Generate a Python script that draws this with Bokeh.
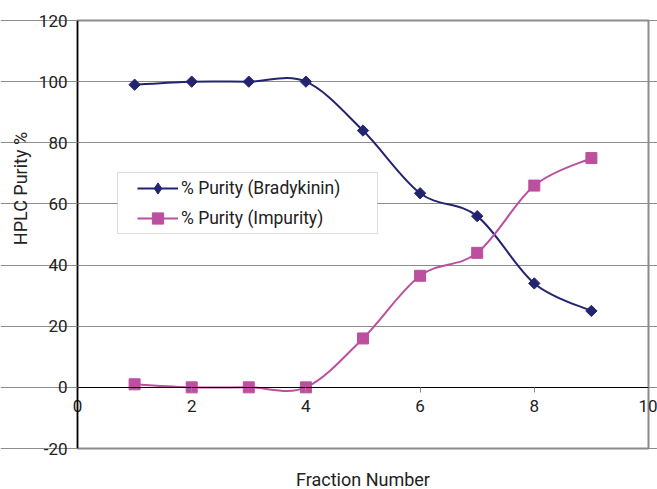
import numpy as np
from bokeh.plotting import figure
from bokeh.models import FixedTicker, Label, BoxAnnotation, Legend, LegendItem, Range1d
from bokeh.embed import file_html
from bokeh.resources import INLINE

fraction = [1, 2, 3, 4, 5, 6, 7, 8, 9]
bradykinin = [99, 100, 100, 100, 84, 63.5, 56, 34, 25]
impurity = [1, 0, 0, 0, 16, 36.5, 44, 66, 75]
x_ticks = [0, 2, 4, 6, 8, 10]
y_ticks = [-20, 0, 20, 40, 60, 80, 100, 120]
series_names = ["% Purity (Bradykinin)", "% Purity (Impurity)"]
x_title = "Fraction Number"
y_title = "HPLC Purity %"

FONT = "Roboto"
NAVY = "#232470"
MAGENTA = "#bc4f9f"
TXT = "#222222"
GRAY = "#8c8c8c"

W, H = 657, 489
# plot-area box in canvas pixels (left, right, top, bottom)
BOX_L, BOX_R, BOX_T, BOX_B = 77, 648, 20, 448


def smooth_segments(xs, ys):
    """Excel-like smoothed line: cubic Bezier segments through the data points."""
    xs = np.asarray(xs, float)
    ys = np.asarray(ys, float)
    n = len(xs)
    seg = dict(x0=[], y0=[], x1=[], y1=[], cx0=[], cy0=[], cx1=[], cy1=[])
    for i in range(n - 1):
        i0, i3 = max(i - 1, 0), min(i + 2, n - 1)
        seg["x0"].append(xs[i]); seg["y0"].append(ys[i])
        seg["x1"].append(xs[i + 1]); seg["y1"].append(ys[i + 1])
        seg["cx0"].append(xs[i] + (xs[i + 1] - xs[i0]) / 6)
        seg["cy0"].append(ys[i] + (ys[i + 1] - ys[i0]) / 6)
        seg["cx1"].append(xs[i + 1] - (xs[i3] - xs[i]) / 6)
        seg["cy1"].append(ys[i + 1] - (ys[i3] - ys[i]) / 6)
    return seg


# ranges padded so that the axis box lands at BOX_* while the frame fills the canvas
x0, x1 = x_ticks[0], x_ticks[-1]
y0, y1 = y_ticks[0], y_ticks[-1]
xs_ = (x1 - x0) / (BOX_R - BOX_L)
ys_ = (y1 - y0) / (BOX_B - BOX_T)
x_range = Range1d(x0 - BOX_L * xs_, x1 + (W - BOX_R) * xs_)
y_range = Range1d(y0 - (H - BOX_B) * ys_, y1 + BOX_T * ys_)

p = figure(width=W, height=H, x_range=x_range, y_range=y_range,
           output_backend="svg", toolbar_location=None, min_border=0)
p.background_fill_color = "white"
p.border_fill_color = "white"
p.outline_line_color = None

# grid
p.xgrid.grid_line_color = None
p.ygrid.ticker = FixedTicker(ticks=y_ticks)
p.ygrid.bounds = (x0, x1)
p.ygrid.grid_line_color = GRAY
p.ygrid.grid_line_width = 1

# plot-area frame (axis limits)
p.quad(left=[x0], right=[x1], bottom=[y0], top=[y1], fill_alpha=0,
       line_color=GRAY, line_width=2)

# y axis at x = 0
p.yaxis.fixed_location = x0
p.yaxis.bounds = (y0, y1)
p.yaxis.ticker = FixedTicker(ticks=y_ticks)
p.yaxis.major_label_overrides = {t: str(t) for t in y_ticks}
p.yaxis.axis_line_color = "black"
p.yaxis.axis_line_width = 1.5
p.yaxis.major_tick_line_color = GRAY
p.yaxis.major_tick_out = 6
p.yaxis.major_tick_in = 0
p.yaxis.minor_tick_line_color = None
p.yaxis.major_label_standoff = 4
p.yaxis.major_label_text_font = FONT
p.yaxis.major_label_text_font_size = "17px"
p.yaxis.major_label_text_color = TXT

# x axis crossing at y = 0
p.xaxis.fixed_location = 0
p.xaxis.bounds = (x0, x1)
p.xaxis.ticker = FixedTicker(ticks=x_ticks)
p.xaxis.axis_line_color = "black"
p.xaxis.axis_line_width = 1
p.xaxis.major_tick_line_color = GRAY
p.xaxis.major_tick_out = 5
p.xaxis.major_tick_in = 0
p.xaxis.minor_tick_line_color = None
p.xaxis.major_label_standoff = 8
p.xaxis.major_label_text_font = FONT
p.xaxis.major_label_text_font_size = "17px"
p.xaxis.major_label_text_color = TXT

# series
s1 = smooth_segments(fraction, bradykinin)
s2 = smooth_segments(fraction, impurity)
b1 = p.bezier(source=s1, x0="x0", y0="y0", x1="x1", y1="y1", cx0="cx0", cy0="cy0",
              cx1="cx1", cy1="cy1", line_color=NAVY, line_width=2)
b2 = p.bezier(source=s2, x0="x0", y0="y0", x1="x1", y1="y1", cx0="cx0", cy0="cy0",
              cx1="cx1", cy1="cy1", line_color=MAGENTA, line_width=2)
m1 = p.scatter(fraction, bradykinin, marker="square", angle=np.pi / 4, size=8,
               fill_color=NAVY, line_color=NAVY)
m2 = p.scatter(fraction, impurity, marker="square", size=11,
               fill_color=MAGENTA, line_color=MAGENTA)
# legend-only sample marker (legend glyphs ignore angle, so use a diamond)
d1 = p.scatter([np.nan], [np.nan], marker="diamond", fill_color=NAVY, line_color=NAVY)

# legend box (screen units: from the frame's bottom-left corner)
box = BoxAnnotation(left=117, right=377, top=H - 172, bottom=H - 233,
                    left_units="screen", right_units="screen",
                    top_units="screen", bottom_units="screen",
                    fill_color="white", fill_alpha=1.0,
                    line_color=GRAY, line_width=1, level="annotation")
p.add_layout(box)

legend = Legend(items=[LegendItem(label=series_names[0], renderers=[b1, d1]),
                       LegendItem(label=series_names[1], renderers=[b2, m2])],
                location=(137, H - 233), padding=0, margin=0, spacing=0,
                glyph_width=41, glyph_height=28, label_height=30, label_standoff=3,
                label_text_font=FONT, label_text_font_size="17.5px",
                label_text_color=TXT, border_line_color=None,
                background_fill_alpha=0)
p.add_layout(legend)

# axis titles
p.add_layout(Label(x=20, y=H - 188, x_units="screen", y_units="screen",
                   text=y_title, angle=np.pi / 2, text_align="center",
                   text_baseline="middle", text_font=FONT, text_font_size="18px",
                   text_color=TXT))
p.add_layout(Label(x=362.5, y=H - 479, x_units="screen", y_units="screen",
                   text=x_title, text_align="center", text_baseline="middle",
                   text_font=FONT, text_font_size="18px", text_color=TXT))

open("out.html", "w").write(file_html(p, INLINE))
